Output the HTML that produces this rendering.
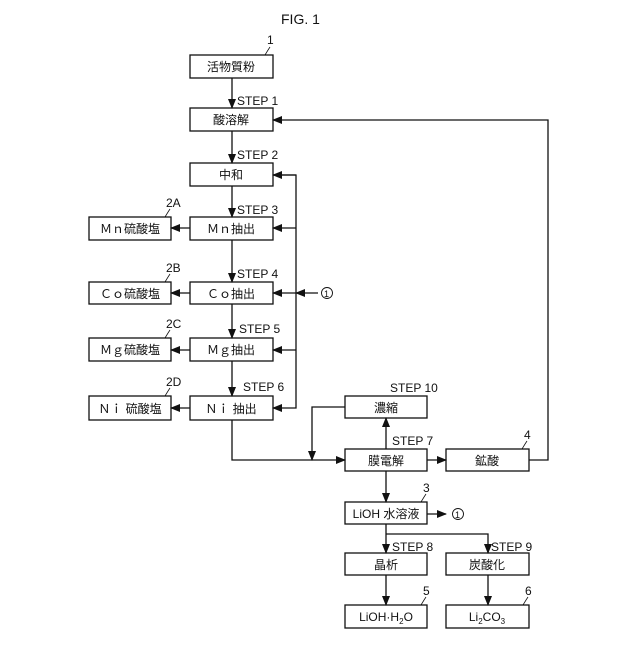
<!DOCTYPE html>
<html><head><meta charset="utf-8"><style>
body{margin:0;background:#fff}
svg text{font-family:"Liberation Sans","Noto Sans CJK JP",sans-serif;fill:#111}
</style></head><body>
<svg width="640" height="640" viewBox="0 0 640 640" xmlns="http://www.w3.org/2000/svg">
<defs><marker id="a" markerWidth="10" markerHeight="8" refX="9" refY="4" orient="auto" markerUnits="userSpaceOnUse"><path d="M0,0 L10,4 L0,8z" fill="#111"/></marker></defs>
<g fill="none" stroke="#111" stroke-width="1.3">
<rect x="190" y="55" width="83" height="23"/>
<rect x="190" y="108" width="83" height="23"/>
<rect x="190" y="163" width="83" height="23"/>
<rect x="190" y="217" width="83" height="23"/>
<rect x="190" y="282" width="83" height="22"/>
<rect x="190" y="338" width="83" height="23"/>
<rect x="190" y="396" width="83" height="24"/>
<rect x="89" y="217" width="82" height="23"/>
<rect x="89" y="282" width="82" height="22"/>
<rect x="89" y="338" width="82" height="23"/>
<rect x="89" y="396" width="82" height="24"/>
<rect x="345" y="396" width="82" height="22"/>
<rect x="345" y="449" width="82" height="22"/>
<rect x="446" y="449" width="83" height="22"/>
<rect x="345" y="502" width="82" height="22"/>
<rect x="345" y="553" width="82" height="22"/>
<rect x="446" y="553" width="83" height="22"/>
<rect x="345" y="605" width="82" height="23"/>
<rect x="446" y="605" width="83" height="23"/>
<line x1="232" y1="78" x2="232" y2="108" marker-end="url(#a)"/>
<line x1="232" y1="131" x2="232" y2="163" marker-end="url(#a)"/>
<line x1="232" y1="186" x2="232" y2="217" marker-end="url(#a)"/>
<line x1="232" y1="240" x2="232" y2="282" marker-end="url(#a)"/>
<line x1="232" y1="304" x2="232" y2="338" marker-end="url(#a)"/>
<line x1="232" y1="361" x2="232" y2="396" marker-end="url(#a)"/>
<line x1="190" y1="228" x2="171" y2="228" marker-end="url(#a)"/>
<line x1="190" y1="293" x2="171" y2="293" marker-end="url(#a)"/>
<line x1="190" y1="350" x2="171" y2="350" marker-end="url(#a)"/>
<line x1="190" y1="408" x2="171" y2="408" marker-end="url(#a)"/>
<polyline points="273,175 296,175 296,408 273,408" marker-end="url(#a)"/>
<line x1="296" y1="175" x2="273" y2="175" marker-end="url(#a)"/>
<line x1="296" y1="228" x2="273" y2="228" marker-end="url(#a)"/>
<line x1="296" y1="293" x2="273" y2="293" marker-end="url(#a)"/>
<line x1="296" y1="350" x2="273" y2="350" marker-end="url(#a)"/>
<line x1="318" y1="293" x2="296" y2="293" marker-end="url(#a)"/>
<polyline points="232,420 232,460 345,460" marker-end="url(#a)"/>
<polyline points="345,407 312,407 312,460" marker-end="url(#a)"/>
<line x1="386" y1="449" x2="386" y2="418" marker-end="url(#a)"/>
<line x1="427" y1="460" x2="446" y2="460" marker-end="url(#a)"/>
<polyline points="529,460 548,460 548,120 273,120" marker-end="url(#a)"/>
<line x1="386" y1="471" x2="386" y2="502" marker-end="url(#a)"/>
<line x1="427" y1="514" x2="446" y2="514" marker-end="url(#a)"/>
<line x1="386" y1="524" x2="386" y2="553" marker-end="url(#a)"/>
<polyline points="386,534 488,534 488,553" marker-end="url(#a)"/>
<line x1="386" y1="575" x2="386" y2="605" marker-end="url(#a)"/>
<line x1="488" y1="575" x2="488" y2="605" marker-end="url(#a)"/>
<g stroke-width="0.8">
<path d="M265,55 q3,-5 5,-8"/><path d="M165,217 q3,-5 5,-8"/><path d="M165,282 q3,-5 5,-8"/><path d="M165,338 q3,-5 5,-8"/><path d="M165,396 q3,-5 5,-8"/>
<path d="M421,502 q3,-5 5,-8"/><path d="M522,449 q3,-5 5,-8"/><path d="M421,605 q3,-5 5,-8"/><path d="M523,605 q3,-5 5,-8"/>
</g>
<circle cx="327" cy="293" r="5.5" stroke-width="0.9"/>
<circle cx="458" cy="514" r="5.5" stroke-width="0.9"/>
</g>
<g font-size="12" text-anchor="middle">
<text x="231" y="71">活物質粉</text>
<text x="231" y="124">酸溶解</text>
<text x="231" y="179">中和</text>
<text x="231" y="233">Ｍｎ抽出</text>
<text x="231" y="298">Ｃｏ抽出</text>
<text x="231" y="354">Ｍｇ抽出</text>
<text x="231" y="413">Ｎｉ 抽出</text>
<text x="130" y="233">Ｍｎ硫酸塩</text>
<text x="130" y="298">Ｃｏ硫酸塩</text>
<text x="130" y="354">Ｍｇ硫酸塩</text>
<text x="130" y="413">Ｎｉ 硫酸塩</text>
<text x="386" y="412">濃縮</text>
<text x="386" y="465">膜電解</text>
<text x="487" y="465">鉱酸</text>
<text x="386" y="518">LiOH 水溶液</text>
<text x="386" y="569">晶析</text>
<text x="487" y="569">炭酸化</text>
<text x="386" y="621">LiOH·H<tspan font-size="8" dy="3">2</tspan><tspan dy="-3">O</tspan></text>
<text x="487" y="621">Li<tspan font-size="8" dy="3">2</tspan><tspan dy="-3">CO</tspan><tspan font-size="8" dy="3">3</tspan></text>
</g>
<g font-size="12">
<text x="237" y="105">STEP 1</text>
<text x="237" y="159">STEP 2</text>
<text x="237" y="214">STEP 3</text>
<text x="237" y="278">STEP 4</text>
<text x="239" y="333">STEP 5</text>
<text x="243" y="391">STEP 6</text>
<text x="390" y="392">STEP 10</text>
<text x="392" y="445">STEP 7</text>
<text x="392" y="551">STEP 8</text>
<text x="491" y="551">STEP 9</text>
<text x="267" y="44">1</text>
<text x="166" y="207">2A</text>
<text x="166" y="272">2B</text>
<text x="166" y="328">2C</text>
<text x="166" y="386">2D</text>
<text x="423" y="492">3</text>
<text x="524" y="439">4</text>
<text x="423" y="595">5</text>
<text x="525" y="595">6</text>
<text x="324" y="297" font-size="9">1</text>
<text x="455" y="518" font-size="9">1</text>
<text x="281" y="24" font-family="Liberation Mono,monospace" font-size="14">FIG. 1</text>
</g>
</svg>
</body></html>
